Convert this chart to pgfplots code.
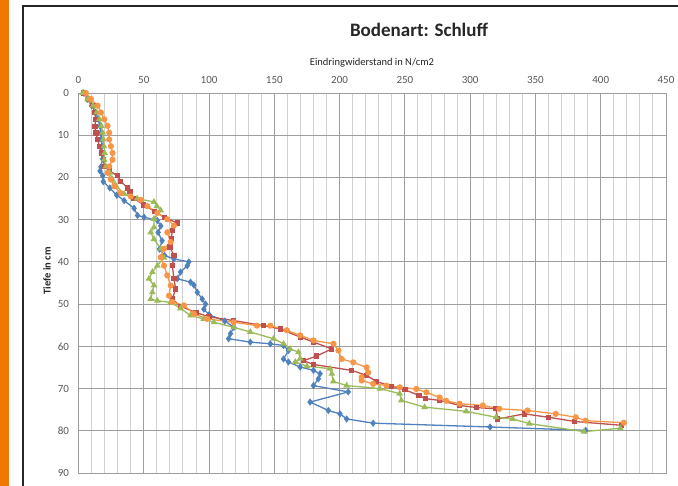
\documentclass[border=0pt]{standalone}
\usepackage{fontspec}
\setmainfont{Carlito}
\usepackage{pgfplots}
\pgfplotsset{compat=1.18}
\definecolor{sblue}{HTML}{4F81BD}
\definecolor{sred}{HTML}{C0504D}
\definecolor{sgreen}{HTML}{9BBB59}
\definecolor{sorange}{HTML}{F79646}
\definecolor{barorange}{RGB}{240,120,0}
\definecolor{ticktext}{HTML}{595959}
\begin{document}
\begin{tikzpicture}[x=1pt,y=1pt]
\useasboundingbox (0,0) rectangle (678,-486);
\fill[white] (0,0) rectangle (678,-486);
\fill[barorange] (0,0) rectangle (9,-486);
\draw[line width=2.5pt, black!85] (23,-486) -- (23,-6) -- (678,-6);
\node[font=\bfseries\fontsize{19}{22}\selectfont, text=black!85] at (419,-30) {Bodenart: Schluff};
\node[font=\fontsize{10.5}{12}\selectfont, text=black!85] at (372,-63) {Eindringwiderstand in N/cm2};
\node[rotate=90, font=\bfseries\fontsize{10.5}{12}\selectfont, text=black!85] at (47,-271) {Tiefe in cm};
\begin{axis}[
  at={(78.5pt,-93pt)}, anchor=north west,
  scale only axis, width=587.5pt, height=380pt,
  xmin=0, xmax=450, ymin=0, ymax=90, y dir=reverse,
  xtick={0,50,...,450}, ytick={0,10,...,90},
  minor x tick num=4,
  xticklabel pos=upper,
  grid=both,
  major grid style={draw=black!38, line width=0.9pt},
  minor grid style={draw=black!18, line width=0.9pt},
  axis line style={draw=black!38, line width=0.9pt},
  major tick length=0pt, minor tick length=0pt,
  tick label style={font=\fontsize{11}{13}\selectfont, text=ticktext},
  /pgf/number format/assume math mode=true,
  xticklabel style={yshift=6pt},
  yticklabel style={xshift=-6pt},
  every axis plot/.append style={line width=1.3pt},
]
\addplot[color=sblue, mark=diamond*, mark size=2.6pt] table {
4 0
7 1.5
10 3
13 4.6
15 6.2
16.5 7.8
17 9.4
17.5 11
18 12.6
17.5 14.2
18.5 15.6
17.2 17.5
16.5 18.5
18.5 19.6
19 21
24 22.5
29.3 24.2
35 25.5
42.6 27.3
45.2 29
50.2 29.4
60.4 30.2
63 31.5
61 33
64 35
62 37
66 38.5
73.1 39.3
84.5 40
83.3 40.9
78.2 42.4
75.7 44
85.8 44.8
88.4 45.5
91 47.2
94.8 48.8
97.3 50
96 51.2
100 52.5
112 54
119 55.5
116.4 57
115 58.2
131.6 59
146.9 59.4
157 59.8
160.8 61
157 63
160.8 63.7
169.8 64.9
180 65.7
185 66.5
183.7 67.7
180 69.3
206.6 70.8
177.4 73.2
191.4 75.2
200.3 76
205.4 77.2
225.7 78.2
315.3 79.1
388.5 79.9
};
\addplot[color=sred, mark=square*, mark size=2pt] table {
4 0
8 1.5
11 3
12.5 4.6
13 6.2
12.6 8
13.4 9.5
14.6 11
16 12.6
17.5 14.2
19 15.8
20 17.4
24 18.5
29.9 19.6
32.4 20.9
37.5 22.5
39.5 23.4
42.6 25
50 26.5
58 28
66 29.5
75.7 30.8
72 32.5
71 34.5
70 36.5
73.1 38.5
71.9 40.9
73.1 44
74.4 46.4
71.9 48.8
78 50.5
90 52
100 53
118.9 53.9
141.8 55.1
154.5 55.9
169.8 57.8
180 59
194 60.6
182.5 62.3
172.3 63.4
180 64.3
209.2 65.7
220.7 66.9
228 68.3
240 69.5
250 70.3
260.7 71.6
265.8 72.4
276.6 72.8
291.9 74
305 74.5
319.8 74.8
321 77.2
341.6 76
360 76.8
380 77.8
416 78.7
};
\addplot[color=sgreen, mark=triangle*, mark size=2.6pt] table {
3.2 0
7 1.5
11 3
14 4.6
16 6.2
17.5 7.8
18.5 9.4
19 11
19.5 12.6
20 14.2
19.7 15.8
21 17.4
24 18.9
26 20.5
28.6 21.9
35 23.9
45 25
57.8 25.8
60 26.8
63 27.8
57.8 29.8
57.8 31.8
55.3 33
57.8 34.6
63 36.9
65.5 39
60.4 40.9
56.6 42.4
54 44
57.8 45.6
56.6 47.2
55.3 48.8
60.4 49.2
70.6 49.6
78 51
85.8 52.7
96 53.5
103.7 54.3
118.9 55.5
131.6 56.6
149.4 58.2
157.1 59.4
162.1 60.6
168.5 61.4
169.8 62.9
166 63.7
174.9 64.7
192.7 65.3
194 66.5
195.2 68.3
205.4 69.3
230.8 70
246 71.2
247.3 72.8
265.1 74.4
297 75.4
319.8 76.8
332.5 77.2
345.3 78.3
387.2 80.2
415 79.4
};
\addplot[color=sorange, mark=*, mark size=2.4pt] table {
5.7 0
9.5 1.4
14.6 3
17.2 4.6
19.7 6.2
22.3 7.8
23.5 9.4
23.5 11
24.8 12.6
26.1 14.2
26.1 15.8
23.5 17.4
22.3 18.9
24.8 20.5
27.3 22.1
32.4 23.7
40 24.5
47.7 25.3
52.8 26.8
60.4 28.4
68 29.9
73.1 31.4
68 33
70.6 35.3
65.5 36.9
63 38.9
65.5 40.9
68 43.2
70.6 45.6
69.3 48
71.9 49.5
80.7 50.3
88.4 52.3
98.6 53.5
118.9 54.3
136.7 55.1
146.9 55.1
159.6 56.2
169.8 57.4
180 58.6
195.3 59.4
199.1 61
201.6 63
210.5 63.8
220.7 65
221.9 66.2
216.9 67.3
216.9 68.1
225.7 68.9
235.9 69.3
246.1 69.7
258.8 70.1
266.5 70.9
276.6 72.1
281.7 72.9
291.9 73.6
309.7 74
322.4 74.8
344 75.2
365.6 76
380.9 76.8
388.5 77.6
417.7 78.1
};
\end{axis}
\end{tikzpicture}
\end{document}
